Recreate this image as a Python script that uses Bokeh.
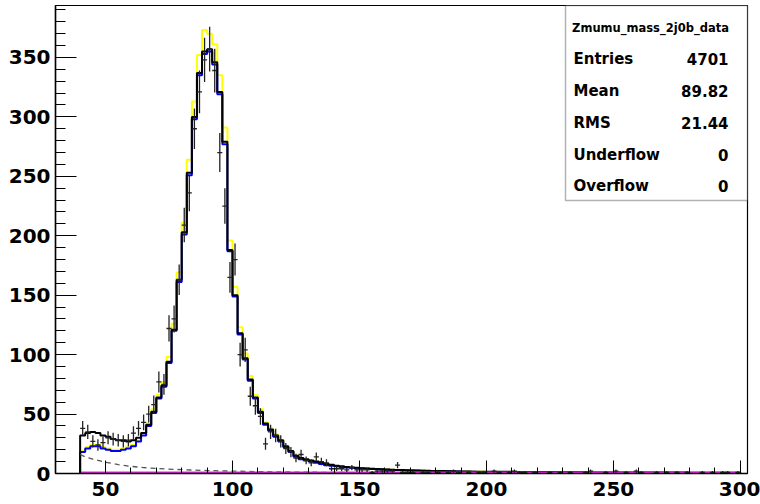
import numpy as np
from bokeh.plotting import figure
from bokeh.models import Range1d, FixedTicker, Label, BoxAnnotation
from bokeh.embed import file_html
from bokeh.resources import INLINE

# ---------------- data (2 GeV bins from 40 to 300) ----------------
BIN_START = 40
BIN_WIDTH = 2

blue_counts = [
    18, 21, 23, 23, 21, 20, 19, 19, 20, 21,          # 40-58
    23, 27, 32, 40, 51, 63, 73, 93, 120, 161,        # 60-78
    201, 251, 298, 335, 353, 355, 344, 319, 277, 187,  # 80-98
    149, 117, 96, 78, 63, 51, 41, 36, 31, 27,        # 100-118
    22, 18, 14, 12, 11, 10, 9, 8, 7, 6.5,            # 120-138
    6, 5.5, 5.1, 4.8, 4.5, 4.2, 4.0, 3.8, 3.6, 3.4,  # 140-158
    3.2, 3.0, 2.9, 2.8, 2.6, 2.5, 2.4, 2.3, 2.2, 2.1,  # 160-178
    2.0, 1.9, 1.8, 1.7, 1.6, 1.5, 1.5, 1.4, 1.3, 1.3,  # 180-198
    1.2, 1.2, 1.1, 1.1, 1.1, 1.0, 1.0, 1.0, 1.0, 0.9,  # 200-218
    0.9, 0.9, 0.9, 0.9, 0.8, 0.8, 0.8, 0.8, 0.8, 0.8,  # 220-238
    0.7, 0.7, 0.7, 0.7, 0.7, 0.7, 0.7, 0.7, 0.7, 0.7,  # 240-258
    0.6, 0.6, 0.6, 0.6, 0.6, 0.6, 0.6, 0.6, 0.6, 0.6,  # 260-278
    0.5, 0.5, 0.5, 0.5, 0.5, 0.5, 0.5, 0.5, 0.5, 0.5,  # 280-298
]

black_counts = [
    32, 34, 35, 34, 32, 31, 29, 28, 28, 27,
    28, 30, 34, 41, 52, 64, 74, 94, 121, 163,
    203, 253, 300, 337, 355, 357, 346, 321, 279, 188,
    150, 118, 97, 79, 64, 52, 42, 37, 32, 28,
    23, 19, 15, 13, 12, 11, 10, 9, 8, 7.3,
    6.6, 6.0, 5.5, 5.1, 4.8, 4.5, 4.2, 4.0, 3.8, 3.6,
    3.4, 3.2, 3.0, 2.9, 2.7, 2.6, 2.5, 2.4, 2.3, 2.2,
    2.1, 2.0, 1.9, 1.8, 1.7, 1.6, 1.6, 1.5, 1.4, 1.4,
    1.5, 1.5, 1.4, 1.4, 1.4, 1.3, 1.3, 1.3, 1.3, 1.2,
    1.2, 1.2, 1.2, 1.2, 1.1, 1.1, 1.1, 1.1, 1.1, 1.1,
    0.9, 0.9, 0.9, 0.9, 0.9, 0.9, 0.9, 0.9, 0.9, 0.9,
    0.8, 0.8, 0.8, 0.8, 0.8, 0.8, 0.8, 0.8, 0.8, 0.8,
    0.7, 0.7, 0.7, 0.7, 0.7, 0.7, 0.7, 0.7, 0.7, 0.7,
]

yellow_counts = [
    19, 22, 24, 24, 22, 21, 20, 20, 21, 22,
    24, 28, 34, 42, 54, 66, 77, 98, 126, 169,
    211, 264, 313, 352, 373, 370, 361, 335, 291, 196,
    157, 123, 101, 82, 66, 54, 43, 38, 33, 28,
    23, 19, 15, 12.6, 11.5, 10.5, 9.5, 8.4, 7.4, 6.8,
    6.3, 5.8, 5.4, 5.0, 4.7, 4.4, 4.2, 4.0, 3.8, 3.6,
    3.4, 3.2, 3.0, 2.9, 2.7, 2.6, 2.5, 2.4, 2.3, 2.2,
    2.1, 2.0, 1.9, 1.8, 1.7, 1.6, 1.6, 1.5, 1.4, 1.4,
    1.3, 1.3, 1.2, 1.2, 1.2, 1.1, 1.1, 1.1, 1.1, 1.0,
    1.0, 1.0, 1.0, 1.0, 0.9, 0.9, 0.9, 0.9, 0.9, 0.9,
    0.8, 0.8, 0.8, 0.8, 0.8, 0.8, 0.8, 0.8, 0.8, 0.8,
    0.7, 0.7, 0.7, 0.7, 0.7, 0.7, 0.7, 0.7, 0.7, 0.7,
    0.6, 0.6, 0.6, 0.6, 0.6, 0.6, 0.6, 0.6, 0.6, 0.6,
]

data_counts = [
    38, 35, 27, 24, 26, 30, 29, 28, 27, 28,
    34, 38, 43, 50, 58, 77, 75, 122, 130, 163,
    209, 236, 290, 321, 348, 357, 339, 270, 225, 165,
    180, 100, 104, 65, 57, 48, 25, 35, 32, 27,
    21, 18, 13, 16, 11, 9, 14, 10, 9, 4,
    4, 4, 3, 5, 3, 3, 3, 1, 2, 2,
    2, 2, 7, 1, 1, 1, 0, 1, 1, 0,
    1, 0, 1, 2, 1, 0, 1, 0, 1, 1,
    0, 2, 1, 0, 1, 2, 1, 1, 0, 1,
    0, 0, 1, 0, 1, 0, 1, 0, 0, 1,
    2, 0, 0, 1, 0, 2, 0, 1, 0, 2,
    1, 0, 0, 1, 0, 1, 0, 1, 0, 1,
    0, 0, 1, 0, 1, 0, 1, 1, 0, 1,
]

bkg_mass = [40, 42, 45, 50, 55, 60, 65, 70, 80, 90, 100, 110, 120, 130,
            140, 160, 180, 200, 250, 300]
bkg_values = [16, 14, 12, 9.5, 7.5, 6.0, 5.0, 4.2, 3.2, 2.5, 2.0, 1.6, 1.3,
              1.1, 0.9, 0.6, 0.45, 0.35, 0.2, 0.12]

flat_mass = [40, 300]
flat_values = [0.8, 0.8]

x_ticks = [50, 100, 150, 200, 250, 300]
y_ticks = [0, 50, 100, 150, 200, 250, 300, 350]

stats_title = "Zmumu_mass_2j0b_data"
stat_names = ["Entries", "Mean", "RMS", "Underflow", "Overflow"]
stat_values = ["4701", "89.82", "21.44", "0", "0"]

# ---------------- layout ----------------
X0, X1 = 30.3, 302.8
Y0, Y1 = 0.0, 393.7
FRAME_L, FRAME_R, FRAME_T, FRAME_B = 55, 747, 5, 473
W, H = 760, 504


def px2x(px):
    return X0 + (px - FRAME_L) * (X1 - X0) / (FRAME_R - FRAME_L)


def py2y(py):
    return Y0 + (FRAME_B - py) * (Y1 - Y0) / (FRAME_B - FRAME_T)


p = figure(width=W, height=H, output_backend="svg", toolbar_location=None,
           x_range=Range1d(X0, X1), y_range=Range1d(Y0, Y1),
           min_border_left=FRAME_L, min_border_right=W - FRAME_R,
           min_border_top=FRAME_T, min_border_bottom=H - FRAME_B)
p.xgrid.visible = False
p.ygrid.visible = False
p.background_fill_color = "white"
p.border_fill_color = "white"
p.outline_line_color = "black"
p.outline_line_width = 1.2

for ax in (p.xaxis, p.yaxis):
    ax.axis_line_color = "black"
    ax.axis_line_width = 1.5
    ax.major_tick_line_color = "black"
    ax.minor_tick_line_color = "black"
    ax.major_tick_out = 0
    ax.minor_tick_out = 0
    ax.major_label_text_font = "DejaVu Sans"
    ax.major_label_text_font_style = "bold"
    ax.major_label_text_font_size = "20px"
    ax.major_label_text_color = "black"

p.xaxis.major_label_standoff = 8
p.yaxis.major_label_standoff = 5
p.xaxis.ticker = FixedTicker(ticks=x_ticks, minor_ticks=list(range(40, 301, 10)))
p.yaxis.ticker = FixedTicker(ticks=y_ticks, minor_ticks=list(range(0, 391, 10)))
p.xaxis.major_tick_in = 13
p.xaxis.minor_tick_in = 6
p.yaxis.major_tick_in = 21
p.yaxis.minor_tick_in = 10

# ---------------- histograms ----------------
n = len(data_counts)
edges = BIN_START + BIN_WIDTH * np.arange(n + 1)
centers = edges[:-1] + BIN_WIDTH / 2.0


def step_xy(counts):
    c = np.asarray(counts, dtype=float)[:n]
    xs = np.repeat(edges[:len(c) + 1], 2)
    ys = np.concatenate([[0.0], np.repeat(c, 2), [0.0]])
    return xs, ys


xs, ys = step_xy(yellow_counts)
p.line(xs, ys, line_color="#ffff00", line_width=2)
xs, ys = step_xy(blue_counts)
p.line(xs, ys, line_color="#0000ff", line_width=2)
xs, ys = step_xy(black_counts)
p.line(xs, ys, line_color="#000000", line_width=2)

p.line(bkg_mass, bkg_values, line_color="#555555", line_width=1.3, line_dash="5 4")
p.line(flat_mass, flat_values, line_color="#ee22ee", line_width=2)

# data crosses
d = np.asarray(data_counts, dtype=float)
mask = d > 0
err = np.sqrt(d)
p.segment(x0=centers[mask], y0=(d - err)[mask], x1=centers[mask], y1=(d + err)[mask],
          line_color="#222222", line_width=1.3)
p.segment(x0=edges[:-1][mask], y0=d[mask], x1=edges[1:][mask], y1=d[mask],
          line_color="#222222", line_width=1.3)

# ---------------- stats box ----------------
BOX_L, BOX_R, BOX_T, BOX_B = 565, 747, 5, 200
p.add_layout(BoxAnnotation(left=px2x(BOX_L), right=px2x(BOX_R),
                           top=py2y(BOX_T), bottom=py2y(BOX_B),
                           fill_color="white", fill_alpha=1.0,
                           line_color="black", line_width=1.5))
p.add_layout(Label(x=px2x(650), y=py2y(27), text=stats_title,
                   text_font="DejaVu Sans", text_font_style="bold",
                   text_font_size="11.5px", text_align="center",
                   text_baseline="middle", text_color="black"))
p.segment(x0=[px2x(567)], y0=[py2y(42)], x1=[px2x(737)], y1=[py2y(42)],
          line_color="#555555", line_width=1.5)
row_y = [58, 90, 122, 154, 185]
for name, val, ry in zip(stat_names, stat_values, row_y):
    p.add_layout(Label(x=px2x(573), y=py2y(ry), text=name,
                       text_font="DejaVu Sans", text_font_style="bold",
                       text_font_size="15px", text_align="left",
                       text_baseline="middle", text_color="black"))
    p.add_layout(Label(x=px2x(728), y=py2y(ry), text=val,
                       text_font="DejaVu Sans", text_font_style="bold",
                       text_font_size="15px", text_align="right",
                       text_baseline="middle", text_color="black"))

open("out.html", "w").write(file_html(p, INLINE))
